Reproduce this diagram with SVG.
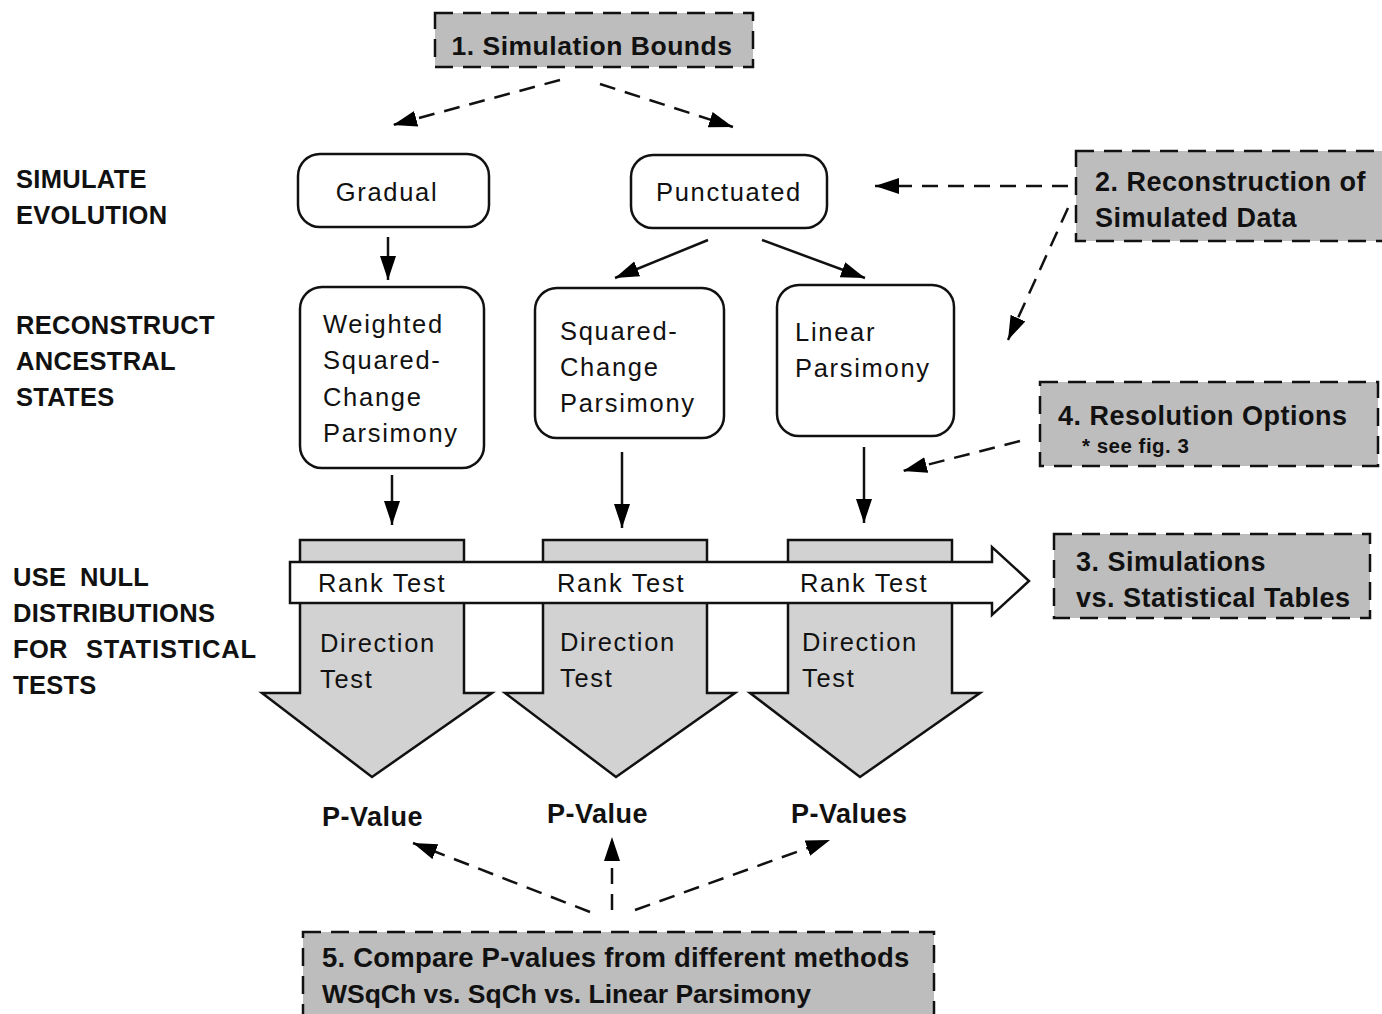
<svg xmlns="http://www.w3.org/2000/svg" width="1382" height="1014" viewBox="0 0 1382 1014">
<defs>
<marker id="ah" markerUnits="userSpaceOnUse" markerWidth="26" markerHeight="18" refX="24" refY="8" orient="auto">
<path d="M0,0 L24,8 L0,16 z" fill="#000"/>
</marker>
<style>
.lbl{font-family:"Liberation Sans",Arial,sans-serif;font-weight:bold;font-size:25.5px;fill:#111;letter-spacing:0.3px}
.bt{font-family:"Liberation Sans",Arial,sans-serif;font-weight:bold;font-size:27px;fill:#111;letter-spacing:0.5px}
.nt{font-family:"Liberation Sans",Arial,sans-serif;font-size:25.5px;fill:#111;letter-spacing:1.7px}
.gbox{fill:#bdbdbd;stroke:#111;stroke-width:2.5;stroke-dasharray:18 10}
.rbox{fill:#fff;stroke:#111;stroke-width:2.5}
.dash{fill:none;stroke:#111;stroke-width:2.5;stroke-dasharray:16 10;marker-end:url(#ah)}
.solid{fill:none;stroke:#111;stroke-width:2.5;marker-end:url(#ah)}
.big{fill:#d2d2d2;stroke:#111;stroke-width:2.5;stroke-linejoin:miter}
</style>
</defs>
<rect width="1382" height="1014" fill="#fff"/>

<g id="labels">
<text class="lbl" x="16" y="188">SIMULATE</text>
<text class="lbl" x="16" y="224">EVOLUTION</text>
<text class="lbl" x="16" y="334">RECONSTRUCT</text>
<text class="lbl" x="16" y="370">ANCESTRAL</text>
<text class="lbl" x="16" y="406">STATES</text>
<text class="lbl" x="13" y="586">USE</text>
<text class="lbl" x="80" y="586">NULL</text>
<text class="lbl" x="13" y="622">DISTRIBUTIONS</text>
<text class="lbl" x="13" y="658">FOR</text>
<text class="lbl" x="86" y="658" style="letter-spacing:0.8px">STATISTICAL</text>
<text class="lbl" x="13" y="694">TESTS</text>
</g>

<g id="box1">
<rect class="gbox" x="435" y="13" width="318" height="54"/>
<text class="bt" x="592" y="55" text-anchor="middle" style="font-size:26.5px">1. Simulation Bounds</text>
</g>

<g id="box2">
<rect class="gbox" x="1076" y="151" width="310" height="90"/>
<text class="bt" x="1095" y="191">2. Reconstruction of</text>
<text class="bt" x="1095" y="227">Simulated Data</text>
</g>

<g id="box4">
<rect class="gbox" x="1040" y="382" width="338" height="84"/>
<text class="bt" x="1058" y="425">4. Resolution Options</text>
<text class="bt" x="1082" y="453" style="font-size:20.5px">* see fig. 3</text>
</g>

<g id="box3">
<rect class="gbox" x="1054" y="534" width="316" height="84"/>
<text class="bt" x="1076" y="571">3. Simulations</text>
<text class="bt" x="1076" y="607">vs. Statistical Tables</text>
</g>

<g id="box5">
<rect class="gbox" x="303" y="932" width="631" height="100"/>
<text class="bt" x="322" y="967" style="font-size:27.5px;letter-spacing:0.2px">5. Compare P-values from different methods</text>
<text class="bt" x="322" y="1003" style="font-size:26.5px;letter-spacing:0px">WSqCh vs. SqCh vs. Linear Parsimony</text>
</g>

<g id="gradual">
<rect class="rbox" x="298" y="154" width="191" height="73" rx="22"/>
<text class="nt" x="387" y="201" text-anchor="middle">Gradual</text>
</g>
<g id="punctuated">
<rect class="rbox" x="631" y="155" width="196" height="73" rx="22"/>
<text class="nt" x="729" y="201" text-anchor="middle">Punctuated</text>
</g>
<g id="wsqch">
<rect class="rbox" x="300" y="287" width="184" height="181" rx="22"/>
<text class="nt" x="323" y="333">Weighted</text>
<text class="nt" x="323" y="369">Squared-</text>
<text class="nt" x="323" y="406">Change</text>
<text class="nt" x="323" y="442">Parsimony</text>
</g>
<g id="sqch">
<rect class="rbox" x="535" y="288" width="189" height="150" rx="22"/>
<text class="nt" x="560" y="340">Squared-</text>
<text class="nt" x="560" y="376">Change</text>
<text class="nt" x="560" y="412">Parsimony</text>
</g>
<g id="linear">
<rect class="rbox" x="777" y="285" width="177" height="151" rx="22"/>
<text class="nt" x="795" y="341">Linear</text>
<text class="nt" x="795" y="377">Parsimony</text>
</g>

<g id="tests">
<path class="big" d="M300,540 H464 V693 H492 L372,777 L262,693 H300 Z"/>
<path class="big" d="M543,540 H707 V693 H735 L616,777 L505,693 H543 Z"/>
<path class="big" d="M788,540 H952 V693 H980 L860,777 L750,693 H788 Z"/>
<path d="M290,562 H992 V547 L1029,581 L992,615 V603 H290 Z" fill="#fff" stroke="#111" stroke-width="2.5"/>
<text class="nt" x="318" y="592">Rank Test</text>
<text class="nt" x="557" y="592">Rank Test</text>
<text class="nt" x="800" y="592">Rank Test</text>
<text class="nt" x="320" y="652">Direction</text>
<text class="nt" x="320" y="688">Test</text>
<text class="nt" x="560" y="651">Direction</text>
<text class="nt" x="560" y="687">Test</text>
<text class="nt" x="802" y="651">Direction</text>
<text class="nt" x="802" y="687">Test</text>
</g>

<g id="pvalues">
<text class="bt" x="322" y="826">P-Value</text>
<text class="bt" x="547" y="823">P-Value</text>
<text class="bt" x="791" y="823">P-Values</text>
</g>

<g id="connectors">
<line class="dash" x1="560" y1="80" x2="393" y2="125"/>
<line class="dash" x1="600" y1="84" x2="733" y2="127"/>
<line class="dash" x1="1068" y1="186" x2="875" y2="186"/>
<line class="dash" x1="1068" y1="208" x2="1008" y2="340"/>
<line class="dash" x1="1020" y1="441" x2="903" y2="471"/>
<line class="solid" x1="388" y1="237" x2="388" y2="280"/>
<line class="solid" x1="708" y1="240" x2="615" y2="278"/>
<line class="solid" x1="762" y1="240" x2="865" y2="278"/>
<line class="solid" x1="392" y1="475" x2="392" y2="525"/>
<line class="solid" x1="622" y1="452" x2="622" y2="528"/>
<line class="solid" x1="864" y1="447" x2="864" y2="523"/>
<line class="dash" x1="590" y1="912" x2="413" y2="843"/>
<line class="dash" x1="612" y1="910" x2="612" y2="837"/>
<line class="dash" x1="635" y1="910" x2="830" y2="840"/>
</g>
</svg>
